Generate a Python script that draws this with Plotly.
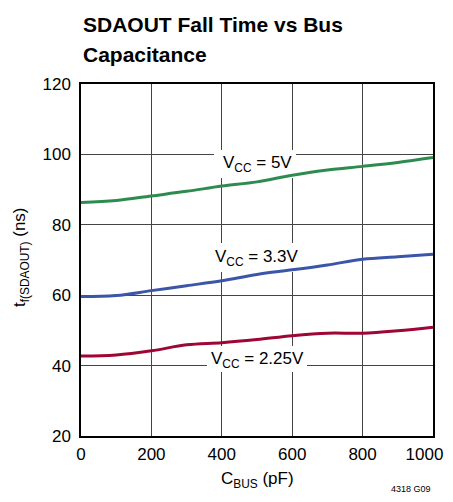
import plotly.graph_objects as go

c_bus = [0, 100, 200, 300, 400, 500, 600, 700, 800, 900, 1000]
tf_5v = [86.3, 86.9, 88.2, 89.5, 91.0, 92.2, 94.1, 95.6, 96.6, 97.7, 99.1]
tf_3v3 = [59.6, 59.9, 61.3, 62.7, 64.1, 65.9, 67.2, 68.6, 70.2, 70.9, 71.6]
tf_2v25 = [42.7, 43.0, 44.2, 45.9, 46.5, 47.4, 48.5, 49.2, 49.2, 49.9, 50.9]

x_ticks = [0, 200, 400, 600, 800, 1000]
x_tick_labels = ["0", "200", "400", "600", "800", "1000\u2002\u2002"]
y_ticks = [20, 40, 60, 80, 100, 120]

FONT = "Liberation Sans, Arial, sans-serif"

# page has an 8px body margin, so the figure is shifted; geometry in page pixels
OFF = 8
L, R, T, B = 81, 433, 84, 436
PW, PH = R - L, B - T
W, H = 453 - OFF, 502 - 2 * OFF
XMIN, XMAX, YMIN, YMAX = 0, 1000, 20, 120

def px(xp):
    return (xp - L) / PW

def py(yp):
    return (B - yp) / PH

def dx(xp):
    return XMIN + px(xp) * (XMAX - XMIN)

def dy(yp):
    return YMIN + py(yp) * (YMAX - YMIN)

fig = go.Figure()
for ys, col in [(tf_5v, "#2e8b50"), (tf_3v3, "#3b56a8"), (tf_2v25, "#9e0635")]:
    fig.add_trace(go.Scatter(x=c_bus, y=ys, mode="lines",
                             line=dict(color=col, width=3, shape="spline", smoothing=1.0),
                             showlegend=False, hoverinfo="skip", cliponaxis=False))

# curve labels: (text, centre x px, centre y px, box x0, x1, y0, y1 px)
labels = [("V<sub>CC</sub> = 5V", 257, 164, 214, 296, 150, 178),
          ("V<sub>CC</sub> = 3.3V", 257, 258, 210, 303, 243, 272),
          ("V<sub>CC</sub> = 2.25V", 257, 360, 207, 307, 346, 372)]
for txt, cx, cy, x0, x1, y0, y1 in labels:
    fig.add_shape(type="rect", xref="x", yref="y",
                  x0=dx(x0), x1=dx(x1), y0=dy(y1), y1=dy(y0),
                  fillcolor="white", line=dict(width=0), layer="between")
    fig.add_annotation(x=px(cx), y=py(cy), xref="paper", yref="paper", text=txt, showarrow=False,
                       xanchor="center", yanchor="middle",
                       font=dict(family=FONT, size=17, color="black"))

# title lines
for txt, yp in [("SDAOUT Fall Time vs Bus", 25), ("Capacitance", 54)]:
    fig.add_annotation(x=0, y=py(yp), xref="paper", yref="paper", text="<b>" + txt + "</b>",
                       showarrow=False, xanchor="left", yanchor="middle",
                       font=dict(family=FONT, size=21, color="black"))

# axis titles
fig.add_annotation(x=px(257), y=py(480), xref="paper", yref="paper",
                   text="C<sub>BUS</sub> (pF)", showarrow=False,
                   xanchor="center", yanchor="middle",
                   font=dict(family=FONT, size=17, color="black"))
fig.add_annotation(x=px(21), y=py(257), xref="paper", yref="paper",
                   text="t<sub>f(SDAOUT)</sub> (ns)", showarrow=False, textangle=-90,
                   xanchor="center", yanchor="middle",
                   font=dict(family=FONT, size=17, color="black"))

fig.add_annotation(x=1, y=py(489), xref="paper", yref="paper", text="4318 G09",
                   showarrow=False, xanchor="right", yanchor="middle",
                   font=dict(family=FONT, size=9, color="black"))

axis_common = dict(showgrid=True, gridcolor="#444444", gridwidth=1,
                   showline=True, linecolor="black", linewidth=1.5, mirror=True,
                   zeroline=False, ticks="outside", tickcolor="rgba(0,0,0,0)",
                   ticklabeloverflow="allow", automargin=False,
                   tickfont=dict(family=FONT, size=17, color="black"))

fig.update_xaxes(range=[XMIN, XMAX], tickvals=x_ticks, ticktext=x_tick_labels,
                 ticklen=2, **axis_common)
fig.update_yaxes(range=[YMIN, YMAX], tickvals=y_ticks, ticktext=[str(v) for v in y_ticks],
                 ticklen=5, **axis_common)

fig.update_layout(
    width=W, height=H,
    margin=dict(l=L - OFF, r=(453 - R), t=T - OFF, b=(H + OFF - B)),
    paper_bgcolor="white", plot_bgcolor="white",
)

fig.write_html("out.html")
